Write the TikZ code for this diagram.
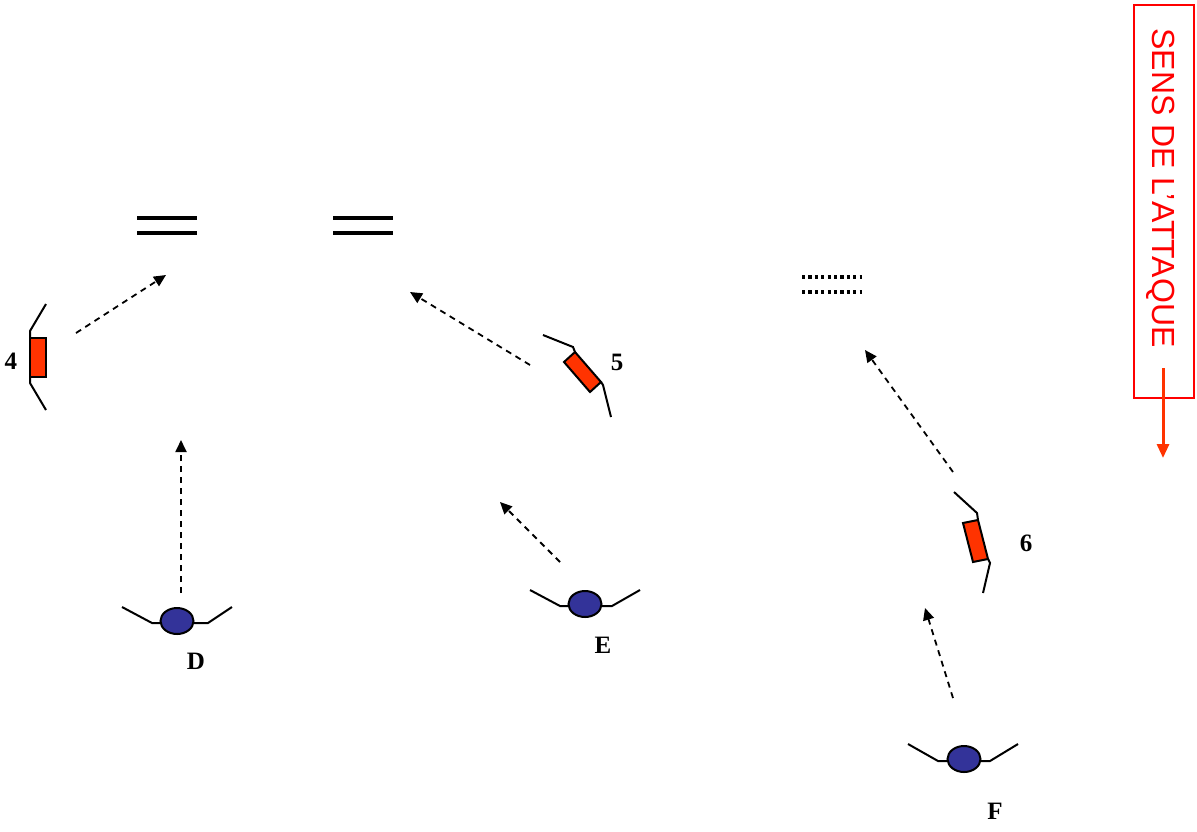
\documentclass[tikz,border=0pt]{standalone}
\usepackage{fontspec}
\setmainfont{Liberation Serif}
\newfontfamily\arialf{Liberation Sans}
\usetikzlibrary{arrows.meta,shapes.geometric}
\definecolor{plred}{HTML}{FF3300}
\definecolor{plblue}{HTML}{333399}
\definecolor{boxred}{HTML}{FF0000}
\tikzset{
  limb/.style={line width=1pt, line join=miter},
  body/.style={draw=black, line width=1pt, fill=plred},
  head/.style={draw=black, line width=1pt, fill=plblue, ellipse, minimum width=16.5pt, minimum height=13pt, inner sep=0pt},
  plabel/.style={font=\bfseries\fontsize{12.5pt}{14pt}\selectfont, inner sep=0pt},
  move/.style={dash pattern=on 3pt off 2.5pt, line width=0.9pt, -{Triangle[length=6pt,width=5.5pt]}},
  bar/.style={line width=1.6pt},
  dotbar/.style={line width=1.6pt, dash pattern=on 1.6pt off 1.6pt},
}
\begin{document}
\begin{tikzpicture}[x=0.5pt,y=-0.5pt]
\useasboundingbox (0,0) rectangle (1197,831);

% bars (goals / defenders)
\draw[bar] (137,218) -- (197,218);
\draw[bar] (137,233) -- (197,233);
\draw[bar] (333,218) -- (393,218);
\draw[bar] (333,233) -- (393,233);
\draw[dotbar] (802,277) -- (862,277);
\draw[dotbar] (802,292) -- (862,292);

% player 4
\draw[body] (30,338) rectangle (46,377);
\draw[limb] (46,304) -- (30,331) -- (30,338);
\draw[limb] (30,377) -- (30,383) -- (46,410);
\node[plabel] (l4) at (11,361) {4};

% player 5
\draw[body] (564,362) -- (575,352) -- (601,382) -- (590,392) -- cycle;
\draw[limb] (543,335) -- (573,347) -- (575,352);
\draw[limb] (601,382) -- (603,385) -- (611,417);
\node[plabel] (l5) at (617,362) {5};

% player 6
\draw[body] (963,523) -- (978,520) -- (988,559) -- (973,562) -- cycle;
\draw[limb] (954,492) -- (977,513) -- (978,520);
\draw[limb] (988,559) -- (990,563) -- (983,593);
\node[plabel] (l6) at (1026,543) {6};

% player D
\draw[limb] (122,607) -- (152,623) -- (208,623) -- (232,607);
\node[head] (hD) at (177,621) {};
\node[plabel] (lD) at (196,661) {D};

% player E
\draw[limb] (530,590) -- (560,606) -- (612,606) -- (640,590);
\node[head] (hE) at (585,604) {};
\node[plabel] (lE) at (603,645) {E};

% player F
\draw[limb] (908,744) -- (938,761) -- (990,761) -- (1018,744);
\node[head] (hF) at (964,759) {};
\node[plabel] (lF) at (995,811) {F};

% movement arrows
\coordinate (a4s) at (76,333);  \coordinate (a4e) at (166,275);
\coordinate (a5s) at (530,365); \coordinate (a5e) at (410,292);
\coordinate (a6s) at (953,472); \coordinate (a6e) at (865,350);
\coordinate (aDs) at (181,593); \coordinate (aDe) at (181,440);
\coordinate (aEs) at (560,562); \coordinate (aEe) at (500,502);
\coordinate (aFs) at (953,698); \coordinate (aFe) at (925,608);
\draw[move] (a4s) -- (a4e);
\draw[move] (a5s) -- (a5e);
\draw[move] (a6s) -- (a6e);
\draw[move] (aDs) -- (aDe);
\draw[move] (aEs) -- (aEe);
\draw[move] (aFs) -- (aFe);

% direction of attack
\draw[boxred, line width=0.7pt] (1134,5) rectangle (1194,398);
\node[text=boxred, rotate=-90, font=\arialf\fontsize{16pt}{19pt}\selectfont, inner sep=0pt] (sens) at (1161,188) {SENS DE L’ATTAQUE};
\coordinate (dirs) at (1163,368);
\coordinate (dire) at (1163,458);
\draw[plred, line width=1.5pt, -{Triangle[length=7pt,width=6pt]}] (dirs) -- (dire);
\end{tikzpicture}
\end{document}
